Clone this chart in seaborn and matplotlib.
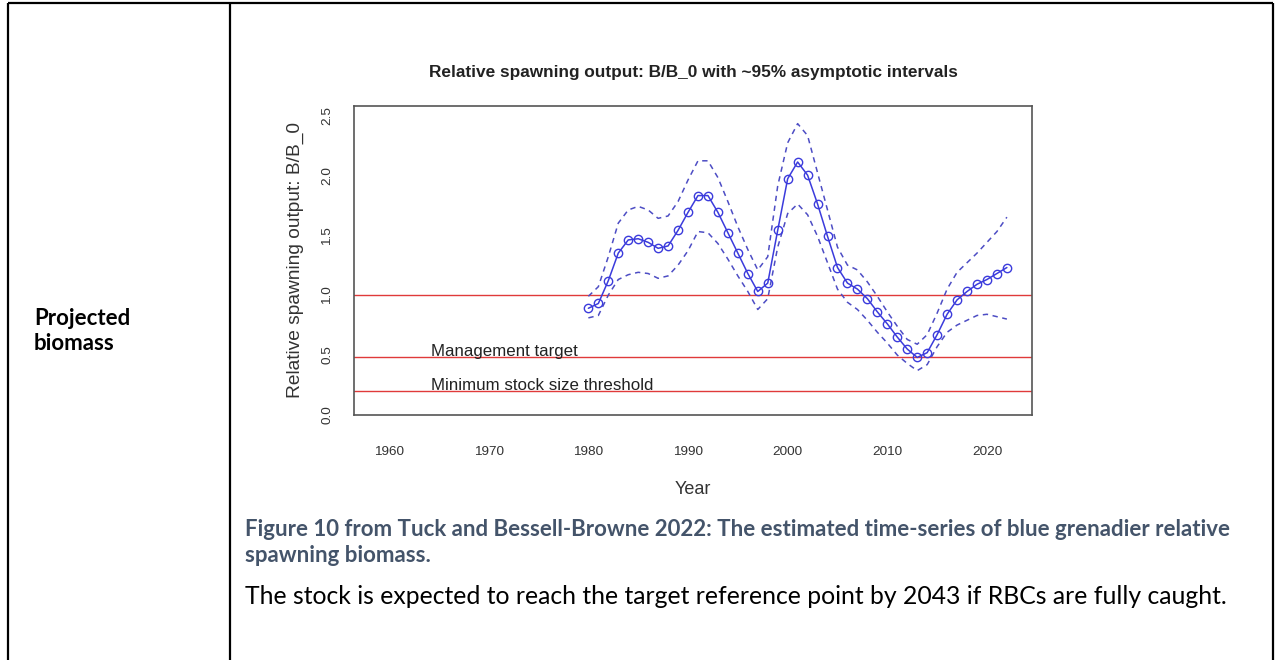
import matplotlib
matplotlib.use("Agg")
import matplotlib.pyplot as plt
import seaborn as sns
import pandas as pd

# Relative spawning output (B/B0) with ~95% asymptotic intervals, 1980-2022
years = list(range(1980, 2023))
rel_sb = [0.89, 0.93, 1.12, 1.35, 1.46, 1.47, 1.44, 1.39, 1.41, 1.54,
          1.69, 1.83, 1.83, 1.69, 1.52, 1.35, 1.18, 1.03, 1.10, 1.54,
          1.97, 2.11, 2.00, 1.76, 1.49, 1.23, 1.10, 1.05, 0.97, 0.86,
          0.76, 0.65, 0.55, 0.48, 0.52, 0.67, 0.84, 0.96, 1.03, 1.09,
          1.13, 1.18, 1.23]
upper_ci = [0.99, 1.07, 1.32, 1.60, 1.71, 1.74, 1.71, 1.64, 1.66, 1.78,
            1.96, 2.12, 2.12, 1.98, 1.78, 1.57, 1.38, 1.21, 1.32, 1.91,
            2.27, 2.43, 2.33, 2.02, 1.71, 1.40, 1.25, 1.21, 1.11, 0.99,
            0.86, 0.74, 0.63, 0.59, 0.67, 0.85, 1.05, 1.19, 1.27, 1.35,
            1.44, 1.53, 1.65]
lower_ci = [0.81, 0.83, 1.00, 1.13, 1.17, 1.19, 1.18, 1.14, 1.16, 1.25,
            1.37, 1.53, 1.52, 1.43, 1.30, 1.16, 1.03, 0.88, 0.97, 1.40,
            1.68, 1.76, 1.67, 1.49, 1.27, 1.05, 0.94, 0.88, 0.79, 0.69,
            0.60, 0.50, 0.43, 0.37, 0.42, 0.57, 0.69, 0.75, 0.79, 0.83,
            0.84, 0.82, 0.80]

# Reference points
ref_levels = [1.0, 0.48, 0.20]
ref_labels = ["", "Management target", "Minimum stock size threshold"]

x_ticks = [1960, 1970, 1980, 1990, 2000, 2010, 2020]
y_ticks = [0.0, 0.5, 1.0, 1.5, 2.0, 2.5]

title = "Relative spawning output: B/B_0 with ~95% asymptotic intervals"
x_label = "Year"
y_label = "Relative spawning output: B/B_0"

row_label = "Projected\nbiomass"
caption_lines = ["Figure 10 from Tuck and Bessell-Browne 2022: The estimated time-series of blue grenadier relative",
                 "spawning biomass."]
body_text = "The stock is expected to reach the target reference point by 2043 if RBCs are fully caught."

df = pd.DataFrame({"year": years, "est": rel_sb, "hi": upper_ci, "lo": lower_ci})

sns.set_style("white")
plt.rcParams["font.family"] = ["Liberation Sans", "DejaVu Sans"]

W, H = 1275, 660
fig = plt.figure(figsize=(W / 100, H / 100), dpi=100)
fig.patch.set_facecolor("white")

# Page layer: table borders and document text, in pixel coordinates
page = fig.add_axes([0, 0, 1, 1])
page.set_xlim(0, W)
page.set_ylim(H, 0)
page.axis("off")
border_kw = dict(color="black", lw=1.6, solid_capstyle="butt")
page.plot([8, 8], [3, H], **border_kw)
page.plot([230, 230], [3, H], **border_kw)
page.plot([1273, 1273], [3, H], **border_kw)
page.plot([8, 1273], [3, 3], **border_kw)

doc_font = ["Lato", "DejaVu Sans"]
page.text(34, 331, row_label, family=doc_font, fontweight="bold", fontsize=16,
          color="black", va="center", ha="left", linespacing=1.25)
page.text(245, 530, caption_lines[0], family=doc_font, fontweight="bold", fontsize=16.0,
          color="#44546A", va="center", ha="left")
page.text(245, 556, caption_lines[1], family=doc_font, fontweight="bold", fontsize=16.0,
          color="#44546A", va="center", ha="left")
page.text(245, 596, body_text, family=doc_font, fontsize=17.85,
          color="black", va="center", ha="left")

# Chart panel
ax_left, ax_right, ax_top, ax_bottom = 354, 1032, 106, 415
ax = fig.add_axes([ax_left / W, 1 - ax_bottom / H,
                   (ax_right - ax_left) / W, (ax_bottom - ax_top) / H])
ax.set_facecolor("white")

for lvl in ref_levels:
    ax.axhline(lvl, color="#e03a3a", lw=1.0, zorder=1)
for lvl, lab in zip(ref_levels, ref_labels):
    if lab:
        ax.text(1964.2, lvl + 0.012, lab, fontsize=12.2, color="#222222",
                ha="left", va="baseline", zorder=3)

ci_color = "#4d4dc4"
sns.lineplot(data=df, x="year", y="hi", ax=ax, color=ci_color, lw=1.1,
             linestyle=(0, (3.5, 3)), zorder=2)
sns.lineplot(data=df, x="year", y="lo", ax=ax, color=ci_color, lw=1.1,
             linestyle=(0, (3.5, 3)), zorder=2)
sns.lineplot(data=df, x="year", y="est", ax=ax, color="#3b3bdc", lw=1.1,
             marker="o", markersize=6, markerfacecolor="none",
             markeredgecolor="#3b3bdc", markeredgewidth=1.0, zorder=4)

ax.set_xlim(1956.48, 2024.52)
ax.set_ylim(0, 2.577)
ax.set_xticks(x_ticks)
ax.set_xticklabels([str(t) for t in x_ticks])
ax.set_yticks(y_ticks)
ax.set_yticklabels([f"{t:.1f}" for t in y_ticks], rotation=90, va="center")
ax.tick_params(axis="both", direction="out", length=7, width=1.0,
               color="#444444", labelsize=9.7, labelcolor="#333333")
ax.tick_params(axis="x", pad=15)
ax.tick_params(axis="y", pad=8)
for s in ax.spines.values():
    s.set_color("#555555")
    s.set_linewidth(1.2)
ax.set_xlabel(x_label, fontsize=13, color="#333333", labelpad=17)
ax.set_ylabel(y_label, fontsize=13.8, color="#333333", labelpad=12)
ax.set_title(title, fontsize=12.4, fontweight="bold", color="#222222", pad=21)

fig.savefig("out.png", dpi=100, facecolor="white")
